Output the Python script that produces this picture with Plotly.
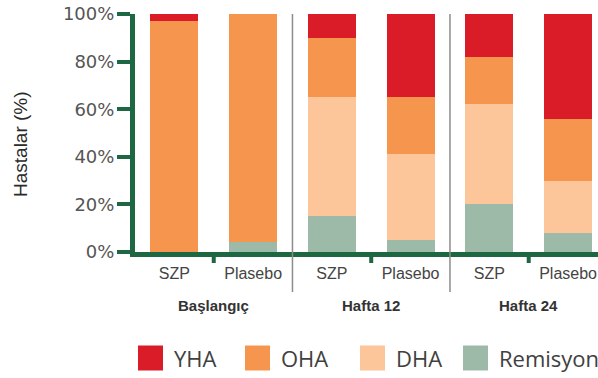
import plotly.graph_objects as go

# Study arms and visit groups
groups = ["Başlangıç", "Başlangıç", "Hafta 12", "Hafta 12", "Hafta 24", "Hafta 24"]
arms = ["SZP", "Plasebo", "SZP", "Plasebo", "SZP", "Plasebo"]
group_names = ["Başlangıç", "Hafta 12", "Hafta 24"]

# Share of patients (%) per disease activity class
remisyon = [0, 4, 15, 5, 20, 8]
dha = [0, 0, 50, 36, 42, 22]
oha = [97, 96, 25, 24, 20, 26]
yha = [3, 0, 10, 35, 18, 44]

y_ticks = [0, 20, 40, 60, 80, 100]
y_tick_labels = [f"{v}%" for v in y_ticks]

series = [
    ("Remisyon", remisyon, "#9dbaa8"),
    ("DHA", dha, "#fcc59a"),
    ("OHA", oha, "#f6954e"),
    ("YHA", yha, "#d91c27"),
]

GREEN = "#1d6843"
W, H = 598, 378
ML, MR, MT, MB = 135, 0, 14, 126
PW, PH = W - ML - MR, H - MT - MB


def px_x(px):
    return (px - ML) / PW


def px_y(py):
    return (H - MB - py) / PH


keys = [f"{g} · {a}" for g, a in zip(groups, arms)]

fig = go.Figure()
for name, vals, color in series:
    fig.add_trace(go.Bar(
        x=keys, y=vals, name=name,
        marker=dict(color=color, line=dict(width=0)),
        showlegend=False,
    ))

# Vertical separators between visit groups
n = len(keys)
for i in range(1, n):
    if groups[i] != groups[i - 1]:
        fig.add_shape(type="line", xref="x", yref="paper",
                      x0=i - 0.5, x1=i - 0.5, y0=1.0, y1=px_y(292),
                      line=dict(color="#8c8c8c", width=1.5), layer="above")

# Ticks between arms inside each group, and group captions
for gname in group_names:
    idx = [i for i, g in enumerate(groups) if g == gname]
    mid = (idx[0] + idx[-1]) / 2
    fig.add_shape(type="line", xref="x", yref="paper",
                  x0=mid, x1=mid, y0=px_y(252), y1=px_y(263),
                  line=dict(color=GREEN, width=4), layer="above")
    fig.add_annotation(x=mid, y=px_y(305), xref="x", yref="paper",
                       text=f"<b>{gname}</b>", showarrow=False,
                       font=dict(family="Liberation Sans", size=15, color="#333333"),
                       xanchor="center", yanchor="middle")

# Y axis title
fig.add_annotation(x=px_x(20), y=px_y(144), xref="paper", yref="paper",
                   text="Hastalar (%)", textangle=-90, showarrow=False,
                   font=dict(family="Liberation Sans", size=19, color="#2a2a2a"),
                   xanchor="center", yanchor="middle")

# Legend drawn with squares and labels
legend_items = [("YHA", "#d91c27", 138), ("OHA", "#f6954e", 245),
                ("DHA", "#fcc59a", 360), ("Remisyon", "#9dbaa8", 463)]
sq = 25
cy = 358
for name, color, x0 in legend_items:
    fig.add_shape(type="rect", xref="paper", yref="paper",
                  x0=px_x(x0), x1=px_x(x0 + sq), y0=px_y(cy - sq / 2), y1=px_y(cy + sq / 2),
                  fillcolor=color, line=dict(width=0))
    fig.add_annotation(x=px_x(x0 + sq + 9), y=px_y(cy), xref="paper", yref="paper",
                       text=name, showarrow=False, xanchor="left", yanchor="middle",
                       font=dict(family="Open Sans", size=22, color="#404040"))

fig.update_layout(
    width=W, height=H,
    margin=dict(l=ML, r=MR, t=MT, b=MB, pad=0),
    barmode="stack", bargap=0.39,
    plot_bgcolor="white", paper_bgcolor="white",
    showlegend=False,
    xaxis=dict(
        type="category", categoryorder="array", categoryarray=keys,
        tickvals=keys, ticktext=arms,
        range=[-0.5, 5.38],
        showline=True, linecolor=GREEN, linewidth=5,
        ticks="outside", ticklen=3, tickcolor="rgba(0,0,0,0)",
        tickfont=dict(family="Liberation Sans", size=16, color="#444444"),
        showgrid=False, zeroline=False, fixedrange=True,
    ),
    yaxis=dict(
        range=[0, 100], tickvals=y_ticks, ticktext=y_tick_labels,
        showline=True, linecolor=GREEN, linewidth=5,
        ticks="outside", ticklen=13, tickwidth=4, tickcolor=GREEN,
        ticklabelstandoff=-1,
        tickfont=dict(family="DejaVu Sans", size=18, color="#555555"),
        showgrid=False, zeroline=False, fixedrange=True,
    ),
)

fig.write_html("out.html")
